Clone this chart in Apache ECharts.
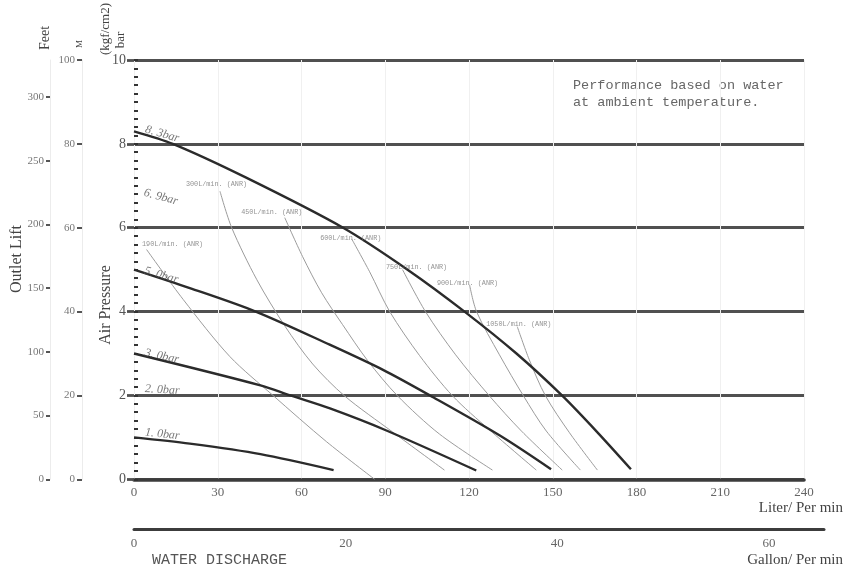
<!DOCTYPE html>
<html><head><meta charset="utf-8">
<script src="https://cdn.jsdelivr.net/npm/echarts@6/dist/echarts.min.js"></script>
<style>html,body{margin:0;padding:0;background:#fff}#c{width:852px;height:577px}</style>
</head><body><div id="c"></div>
<script>
// ---------- DATA ----------
const literTicks = [0, 30, 60, 90, 120, 150, 180, 210, 240];
const gallonTicks = [0, 20, 40, 60];
const barTicks = [0, 2, 4, 6, 8, 10];
const meterTicks = [0, 20, 40, 60, 80, 100];
const feetTicks = [0, 50, 100, 150, 200, 250, 300];

// pressure curves (x: L/min, y: bar)
const press83 = [[0,8.3],[13.9,8.0],[40,7.2],[74.9,6.0],[98,5.0],[118.4,4.0],[137,3.0],[153.3,2.0],[166,1.12],[178,0.24]];
const press50 = [[0,5.0],[20,4.56],[43.6,4.0],[70.1,3.21],[89.2,2.61],[106,2.0],[130.9,1.05],[149.4,0.24]];
const press30 = [[0,3.0],[45.3,2.24],[56,2.0],[70.2,1.69],[90.2,1.17],[122.6,0.21]];
const press10 = [[0,1.0],[20,0.85],[45.3,0.6],[71.5,0.22]];
const pressCurveNames = ['8.3bar', '5.0bar', '3.0bar', '1.0bar'];

// pressure labels (bar)
const pressLabelValues = [8.3, 6.9, 5.0, 3.0, 2.0, 1.0];

// air consumption curves
const air190 = [[4.5,5.48],[17.6,4.29],[34.3,2.93],[49.8,2.0],[68.9,0.9],[86.2,0.0]];
const air300 = [[30.8,6.87],[35.0,6.0],[44.0,4.76],[54.0,3.66],[64.0,2.75],[75.4,1.99],[92.6,1.13],[111.2,0.22]];
const air450 = [[54.0,6.24],[60.4,5.31],[67.2,4.45],[74.7,3.69],[83.7,2.83],[94.4,1.99],[109.4,1.08],[128.4,0.22]];
const air600 = [[78.0,5.73],[84.4,4.95],[91.6,4.0],[102.3,2.95],[114.1,1.99],[127.3,1.18],[144.1,0.22]];
const air750 = [[96.2,5.0],[104.4,4.0],[115.2,2.97],[127.3,1.99],[138.8,1.15],[153.4,0.22]];
const air900 = [[120.2,4.64],[122.7,4.0],[130.9,2.97],[139.5,1.99],[147.7,1.15],[159.9,0.22]];
const air1050 = [[137.3,3.64],[141.6,2.85],[147.4,1.99],[156.0,1.11],[166.0,0.22]];
const airLabels = ['190L/min. (ANR)', '300L/min. (ANR)', '450L/min. (ANR)', '600L/min. (ANR)', '750L/min. (ANR)', '900L/min. (ANR)', '1050L/min. (ANR)'];

const LITER_PER_GALLON = 3.785;

// ---------- STYLE ----------
const airLabelOffset = [[26,-5],[-3.5,-7],[-13,-5],[-1,-1],[14,-2],[-2,-2],[1.5,-2]];
const pressLabelDy = [-5, 0, -2, -3, -7, -6];
const pressLabelRot = [-16, -15, -16, -12, -3, -6];
const serif = '"Liberation Serif", "DejaVu Serif", serif';
const mono = '"Liberation Mono", "DejaVu Sans Mono", monospace';

const pressCurves = [press83, press50, press30, press10];
const airCurves = [air190, air300, air450, air600, air750, air900, air1050];

const chart = echarts.init(document.getElementById('c'), null, {renderer: 'canvas'});

const series = [];
pressCurves.forEach((d, i) => {
  series.push({
    type: 'line', name: pressCurveNames[i], data: d, xAxisIndex: 0, yAxisIndex: 0,
    showSymbol: false, smooth: 0.3,
    lineStyle: {color: '#2b2b2b', width: 2.4}, z: 4, silent: true
  });
});
airCurves.forEach((d, i) => {
  series.push({
    type: 'line', name: airLabels[i], data: d, xAxisIndex: 0, yAxisIndex: 0,
    showSymbol: false, smooth: 0.3,
    lineStyle: {color: '#9c9c9c', width: 1}, z: 3, silent: true
  });
});
// air labels at the start of each curve
series.push({
  type: 'scatter', xAxisIndex: 0, yAxisIndex: 0, symbolSize: 1, silent: true,
  itemStyle: {color: 'rgba(0,0,0,0)'}, z: 5,
  data: airCurves.map((d, i) => ({
    value: d[0],
    label: {show: true, position: 'inside', offset: airLabelOffset[i], formatter: airLabels[i],
      fontFamily: mono, fontSize: 6.8, color: '#777'}
  }))
});
// pressure labels
series.push({
  type: 'scatter', xAxisIndex: 0, yAxisIndex: 0, symbolSize: 1, silent: true,
  itemStyle: {color: 'rgba(0,0,0,0)'}, z: 5,
  data: pressLabelValues.map((v, i) => ({
    value: [0, v],
    label: {show: true, position: 'right', distance: 0, offset: [10, pressLabelDy[i]],
      rotate: pressLabelRot[i], formatter: v.toFixed(1).replace('.', '. ') + 'bar',
      fontFamily: serif, fontStyle: 'italic', fontSize: 12, color: '#555'}
  }))
});

const gridLine = {color: '#505050', width: 2.8};

const option = {
  backgroundColor: '#ffffff',
  animation: false,
  grid: [
    {left: 134, right: 48, top: 60, height: 419.3, containLabel: false},
    {left: 134, right: 28, top: 528.3, height: 1, containLabel: false}
  ],
  xAxis: [
    {
      type: 'value', gridIndex: 0, min: 0, max: 240, interval: 30,
      axisLine: {show: true, lineStyle: {color: '#3c3c3c', width: 3.6}},
      axisTick: {show: false},
      axisLabel: {margin: 7, fontFamily: serif, fontSize: 13, color: '#666',
        customValues: literTicks},
      splitLine: {show: true, lineStyle: {color: '#f0f0f0', width: 1}}
    },
    {
      type: 'value', gridIndex: 1, min: 0, max: 690 / 2.796 / LITER_PER_GALLON, interval: 20,
      axisLine: {show: true, lineStyle: {color: '#3c3c3c', width: 3}},
      axisTick: {show: false},
      axisLabel: {margin: 8, fontFamily: serif, fontSize: 13, color: '#666',
        customValues: gallonTicks},
      splitLine: {show: false}
    }
  ],
  yAxis: [
    {
      type: 'value', gridIndex: 0, min: 0, max: 10, interval: 2, position: 'left',
      axisLine: {show: false},
      axisTick: {show: true, length: 7, lineStyle: gridLine},
      axisLabel: {margin: 8, fontFamily: serif, fontSize: 14, color: '#555', customValues: barTicks},
      splitLine: {show: true, lineStyle: gridLine}
    },
    {
      type: 'value', gridIndex: 0, min: 0, max: 10, interval: 0.2, position: 'left',
      axisLine: {show: false},
      axisTick: {show: true, inside: true, length: 4, lineStyle: {color: '#333', width: 2}},
      axisLabel: {show: false}, splitLine: {show: false}
    },
    {
      type: 'value', gridIndex: 0, min: 0, max: 100, interval: 20, position: 'left', offset: 52,
      axisLine: {show: true, lineStyle: {color: '#ececec', width: 1}},
      axisTick: {show: true, length: 5, lineStyle: {color: '#555', width: 2}},
      axisLabel: {margin: 7, fontFamily: serif, fontSize: 11, color: '#777', customValues: meterTicks},
      splitLine: {show: false}
    },
    {
      type: 'value', gridIndex: 0, min: 0, max: 329, position: 'left', offset: 84,
      axisLine: {show: true, lineStyle: {color: '#ececec', width: 1}},
      axisTick: {show: true, length: 4, lineStyle: {color: '#555', width: 2}, customValues: feetTicks},
      axisLabel: {margin: 6, fontFamily: serif, fontSize: 11, color: '#777', customValues: feetTicks},
      splitLine: {show: false}
    },
    {
      type: 'value', gridIndex: 1, min: 0, max: 1, show: false
    }
  ],
  series: series,
  graphic: [
    {type: 'text', x: 17, y: 259, rotation: Math.PI / 2,
      style: {text: 'Outlet Lift', font: '16px ' + serif, fill: '#444', textAlign: 'center', textVerticalAlign: 'middle'}},
    {type: 'text', x: 106, y: 305, rotation: Math.PI / 2,
      style: {text: 'Air Pressure', font: '16px ' + serif, fill: '#444', textAlign: 'center', textVerticalAlign: 'middle'}},
    {type: 'text', x: 45, y: 38, rotation: Math.PI / 2,
      style: {text: 'Feet', font: '14px ' + serif, fill: '#444', textAlign: 'center', textVerticalAlign: 'middle'}},
    {type: 'text', x: 80, y: 44, rotation: Math.PI / 2,
      style: {text: 'M', font: '9px ' + serif, fill: '#444', textAlign: 'center', textVerticalAlign: 'middle'}},
    {type: 'text', x: 106, y: 29, rotation: Math.PI / 2,
      style: {text: '(kgf/cm2)', font: '13px ' + serif, fill: '#444', textAlign: 'center', textVerticalAlign: 'middle'}},
    {type: 'text', x: 121, y: 40, rotation: Math.PI / 2,
      style: {text: 'bar', font: '13px ' + serif, fill: '#444', textAlign: 'center', textVerticalAlign: 'middle'}},
    {type: 'text', x: 573, y: 85,
      style: {text: 'Performance based on water', font: '13.5px ' + mono, fill: '#666', textAlign: 'left', textVerticalAlign: 'middle'}},
    {type: 'text', x: 573, y: 102,
      style: {text: 'at ambient temperature.', font: '13.5px ' + mono, fill: '#666', textAlign: 'left', textVerticalAlign: 'middle'}},
    {type: 'text', x: 152, y: 560,
      style: {text: 'WATER DISCHARGE', font: '15px ' + mono, fill: '#555', textAlign: 'left', textVerticalAlign: 'middle'}},
    {type: 'text', x: 843, y: 508,
      style: {text: 'Liter/ Per min', font: '15px ' + serif, fill: '#444', textAlign: 'right', textVerticalAlign: 'middle'}},
    {type: 'text', x: 843, y: 560,
      style: {text: 'Gallon/ Per min', font: '15px ' + serif, fill: '#444', textAlign: 'right', textVerticalAlign: 'middle'}}
  ]
};
chart.setOption(option);
</script>
</body></html>
